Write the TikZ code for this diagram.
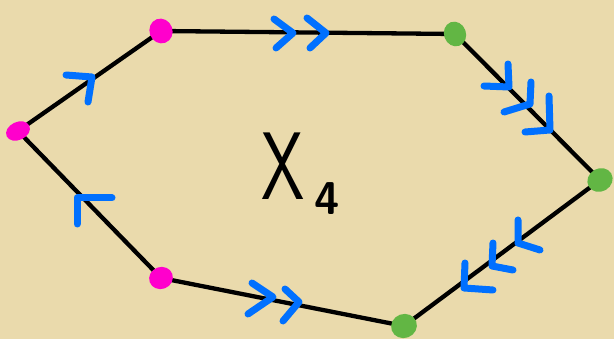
\documentclass[tikz,border=0pt]{standalone}
\usepackage{fontspec}
\usepackage{graphicx}
\usetikzlibrary{calc}
\definecolor{bg}{RGB}{234,218,172}
\definecolor{mag}{RGB}{255,0,204}
\definecolor{grn}{RGB}{98,182,68}
\definecolor{chevblue}{RGB}{0,112,255}
\begin{document}
\begin{tikzpicture}[x=1pt,y=-1pt,
  edge/.style={line width=4.3pt, black, line join=round},
  chev/.style={line width=7pt, chevblue, line cap=round, line join=round},
  magdot/.style={fill=mag},
  grndot/.style={fill=grn}]
\fill[bg] (0,0) rectangle (614,339);
\useasboundingbox (0,0) rectangle (614,339);
% vertices
\coordinate (A) at (161,31);
\coordinate (B) at (455,34);
\coordinate (C) at (600,180);
\coordinate (D) at (404,326);
\coordinate (E) at (161,278);
\coordinate (F) at (18,131);
% edges
\draw[edge] (F) -- (A);
\draw[edge] (A) -- (B);
\draw[edge] (B) -- (C);
\draw[edge] (C) -- (D);
\draw[edge] (E) -- (D);
\draw[edge] (E) -- (F);
% dots
\fill[magdot, rotate around={20:(A)}] (A) ellipse [x radius=11.5pt, y radius=12.5pt];
\fill[magdot, rotate around={25:(F)}] (F) ellipse [x radius=12.5pt, y radius=9pt];
\fill[magdot, rotate around={20:(E)}] (E) ellipse [x radius=12pt, y radius=11pt];
\fill[grndot, rotate around={20:(B)}] (B) ellipse [x radius=11pt, y radius=12.5pt];
\fill[grndot, rotate around={30:(C)}] (C) ellipse [x radius=13pt, y radius=11.5pt];
\fill[grndot, rotate around={20:(D)}] (D) ellipse [x radius=13pt, y radius=12pt];
% chevrons top edge
\coordinate (t1) at (293,33);
\coordinate (t2) at (326,33);
\draw[chev] (274,19) -- (t1) -- (276,48);
\draw[chev] (307,18) -- (t2) -- (310,48);
% bottom edge
\coordinate (b1) at (273,297);
\coordinate (b2) at (299,302);
\draw[chev] (252,283) -- (b1) -- (248,314);
\draw[chev] (285,289) -- (b2) -- (283,321);
% B -> C
\coordinate (r1) at (509,87);
\coordinate (r2) at (530,104);
\coordinate (r3) at (550,130);
\draw[chev] (508,64) -- (r1) -- (484,86);
\draw[chev] (531,82) -- (r2) -- (504,112);
\draw[chev] (549,96) -- (r3) -- (525,132);
% C -> D
\coordinate (s1) at (518,243);
\coordinate (s2) at (492,266);
\coordinate (s3) at (464,288);
\draw[chev] (518,220) -- (s1) -- (540,250);
\draw[chev] (493,243) -- (s2) -- (513,270);
\draw[chev] (465,263) -- (s3) -- (493,290);
% F -> A
\coordinate (u1) at (92,77);
\draw[chev] (66,75) -- (u1) -- (88,102);
% E -> F
\coordinate (v1) at (77,198);
\draw[chev] (112,198) -- (v1) -- (77,224);
% label
\node[anchor=base west, inner sep=0pt, font=\sffamily\fontsize{96}{96}\selectfont] (lbl) at (261,200)
  {\scalebox{0.72}[1]{X}\hspace{10pt}\raisebox{-15pt}{\fontsize{46}{46}\selectfont\bfseries 4}};
\end{tikzpicture}
\end{document}
